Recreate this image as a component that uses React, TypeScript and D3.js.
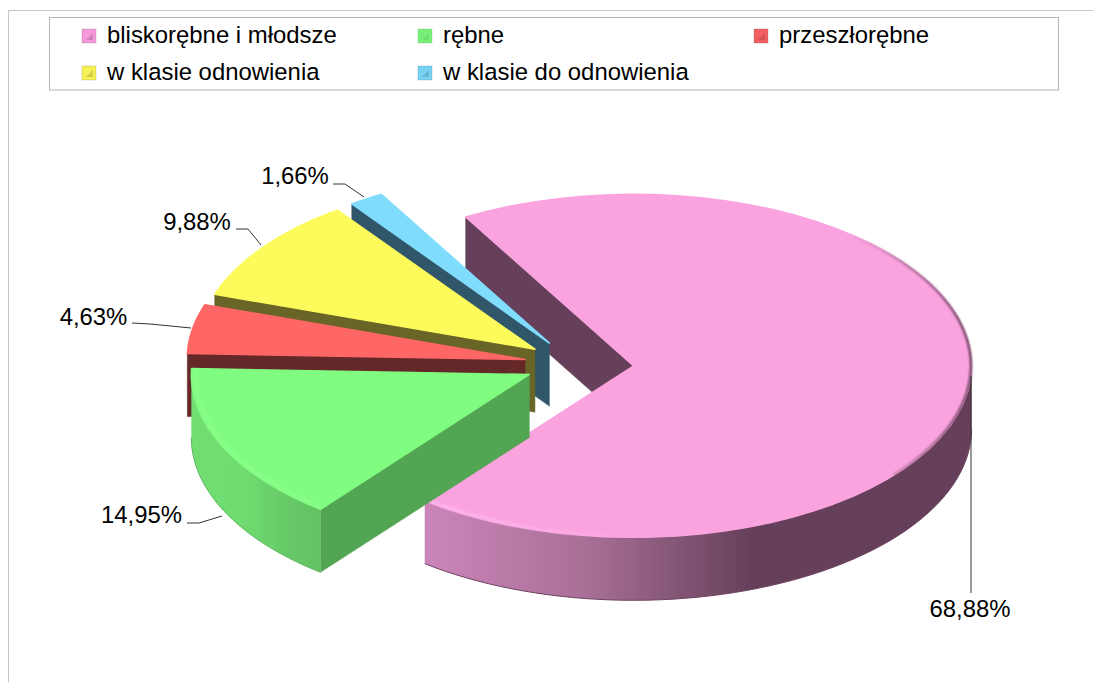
import React from "react";
import * as d3 from "d3";

const categories = ["bliskorębne i młodsze", "rębne", "przeszłorębne", "w klasie odnowienia", "w klasie do odnowienia"];
const shares = [68.88, 14.95, 4.63, 9.88, 1.66];
const shareLabels = ["68,88%", "14,95%", "4,63%", "9,88%", "1,66%"];
const topColors = ["#FAA3DF", "#80FC80", "#FF6666", "#FDFB5C", "#80DCFC"];
const wallColors = ["#66405A", "#52A552", "#652828", "#696526", "#30566A"];
const swatchColors = ["#F79ADB", "#78F078", "#F46060", "#F4F255", "#78D4F4"];
const curveStops = [
  ["#CC86BA", "#A86F96", "#66405A", "#66405A"],
  ["#72DE72", "#70DB70", "#66C866", "#62C262"],
];
const edgeColors = ["#6E4562", "#5DB55D"];
const highlightColors = ["#FFB8EE", "#90FF90"];
const drawOrder = [0, 4, 3, 2, 1];

const W = 1093, H = 682;
const cx = 579, cy = 364, rx = 338, ry = 171.5, depth = 63, explodeX = 0.162, explodeY = 0.145;
const startDeg = -29.8;
const rad = Math.PI / 180;

const pie = d3.pie<number>().sort(null).value((d) => d)
  .startAngle(startDeg * rad).endAngle(startDeg * rad + 2 * Math.PI);
const arcs = pie(shares);

// Projection: pie angle (0 at top, clockwise) onto the tilted disc
const px = d3.scaleLinear().domain([-1, 1]).range([-rx, rx]);
const py = d3.scaleLinear().domain([-1, 1]).range([-ry, ry]);
const apex = (a) => {
  const m = (a.startAngle + a.endAngle) / 2;
  return [cx + explodeX * px(Math.sin(m)), cy + explodeY * py(-Math.cos(m))];
};
const rim = (a, t, k = 1) => {
  const [x, y] = apex(a);
  return [x + k * px(Math.sin(t)), y + k * py(-Math.cos(t))];
};
const samples = (t0, t1) => d3.range(0, 61).map((i) => t0 + ((t1 - t0) * i) / 60);
const line = d3.line();
const closed = (pts) => line(pts) + "Z";
const down = (pts) => pts.map(([x, y]) => [x, y + depth]);

const topPath = (a) => closed([apex(a), ...samples(a.startAngle, a.endAngle).map((t) => rim(a, t))]);
const startWall = (a) => {
  const p = [apex(a), rim(a, a.startAngle)];
  return closed([...p, ...down(p).reverse()]);
};
const curveWall = (a) => {
  const t0 = Math.max(a.startAngle, Math.PI / 2), t1 = Math.min(a.endAngle, 1.5 * Math.PI);
  if (t1 <= t0) return null;
  const p = samples(t0, t1).map((t) => rim(a, t));
  return closed([...p, ...down(p).reverse()]);
};
const rimLine = (a, k, t0 = a.startAngle, t1 = a.endAngle) =>
  line(samples(t0, t1).map((t) => rim(a, t, k)));
const bottomLine = (a, t0, t1) => line(down(samples(t0, t1).map((t) => rim(a, t))));

const legendCols = [82, 418, 754];
const legendRows = [29, 66];
const font = "'Liberation Sans', Arial, sans-serif";

const leaders = [
  [[971, 376], [971, 593]],
  [[187, 523], [199, 523], [222, 516]],
  [[132, 323], [150, 324], [191, 328]],
  [[236, 229], [248, 229], [261, 245]],
  [[333, 184], [345, 184], [364, 197]],
];
const labelAnchors = [[970, 617], [141.5, 523], [93.5, 325], [197, 230], [295, 184]];

export default function App() {
  return (
    <svg width={W} height={H} viewBox={`0 0 ${W} ${H}`} style={{ position: "absolute", left: 0, top: 0, display: "block", background: "#fff" }}>
      <defs>
        <linearGradient id="curve0" gradientUnits="userSpaceOnUse" x1={424} x2={970} y1={0} y2={0}>
          {curveStops[0].map((c, i) => <stop key={i} offset={[0, 0.3, 0.6, 1][i]} stopColor={c} />)}
        </linearGradient>
        <linearGradient id="curve1" gradientUnits="userSpaceOnUse" x1={190} x2={321} y1={0} y2={0}>
          {curveStops[1].map((c, i) => <stop key={i} offset={[0, 0.4, 0.8, 1][i]} stopColor={c} />)}
        </linearGradient>
        <linearGradient id="rimShade" gradientUnits="userSpaceOnUse" x1={850} x2={972} y1={0} y2={0}>
          <stop offset={0} stopColor="#66405A" stopOpacity={0} />
          <stop offset={0.6} stopColor="#66405A" stopOpacity={0.7} />
          <stop offset={1} stopColor="#4A2C42" stopOpacity={1} />
        </linearGradient>
        <linearGradient id="rimLight" gradientUnits="userSpaceOnUse" x1={424} x2={660} y1={0} y2={0}>
          <stop offset={0} stopColor={highlightColors[0]} stopOpacity={1} />
          <stop offset={1} stopColor={highlightColors[0]} stopOpacity={0} />
        </linearGradient>
        <filter id="soft" x="-10%" y="-10%" width="120%" height="120%">
          <feGaussianBlur stdDeviation={0.8} />
        </filter>
      </defs>

      <path d={`M8.5 ${H}V10.5H${W}`} fill="none" stroke="#C6C6C6" strokeWidth={1} />
      <rect x={49.5} y={17.5} width={1009} height={72.5} fill="#fff" stroke="#B4B4B4" strokeWidth={1} />

      {categories.map((c, i) => {
        const col = legendCols[i % 3], row = legendRows[Math.floor(i / 3)];
        return (
          <g key={c}>
            <rect x={col} y={row} width={14} height={14} fill={swatchColors[i]} stroke={wallColors[i]} strokeOpacity={0.35} strokeWidth={0.6} />
            <path d={`M${col + 4} ${row + 11}L${col + 11} ${row + 4}V${row + 11}Z`} fill={wallColors[i]} opacity={0.25} />
            <text x={col + 25} y={row + 14} fontFamily={font} fontSize={23.9} fill="#000">{c}</text>
          </g>
        );
      })}

      {drawOrder.map((i) => {
        const a = arcs[i];
        const cw = curveWall(a);
        const front0 = Math.max(a.startAngle, Math.PI / 2);
        const front1 = Math.min(a.endAngle, 1.5 * Math.PI);
        return (
          <g key={i}>
            <path d={startWall(a)} fill={wallColors[i]} stroke={wallColors[i]} strokeWidth={0.5} />
            {cw && <path d={cw} fill={i < 2 ? `url(#curve${i})` : wallColors[i]} />}
            {cw && i < 2 && <path d={bottomLine(a, front0, front1)} fill="none" stroke={edgeColors[i]} strokeWidth={1} />}
            <path d={topPath(a)} fill={topColors[i]} stroke={topColors[i]} strokeWidth={1.5} strokeLinejoin="round" />
            {i === 0 && (
              <path d={rimLine(a, 0.998, 0.45, Math.PI * 0.72)} fill="none" stroke="url(#rimShade)" strokeWidth={2} filter="url(#soft)" />
            )}
            {i === 0 && (
              <path d={rimLine(a, 0.992, front1 - 0.6, front1 - 0.01)} fill="none" stroke="url(#rimLight)" strokeWidth={3} filter="url(#soft)" />
            )}
            {i === 1 && (
              <path d={rimLine(a, 0.988, front0 + 0.01, front1 + 0.02)} fill="none" stroke={highlightColors[i]} strokeWidth={3.5} filter="url(#soft)" opacity={0.6} />
            )}
          </g>
        );
      })}

      {leaders.map((pts, i) => (
        <path key={i} d={line(pts)} fill="none" stroke="#333" strokeWidth={1} />
      ))}
      {shareLabels.map((t, i) => (
        <text key={t} x={labelAnchors[i][0]} y={labelAnchors[i][1]} textAnchor="middle" fontFamily={font} fontSize={23.9} fill="#000">{t}</text>
      ))}
    </svg>
  );
}
